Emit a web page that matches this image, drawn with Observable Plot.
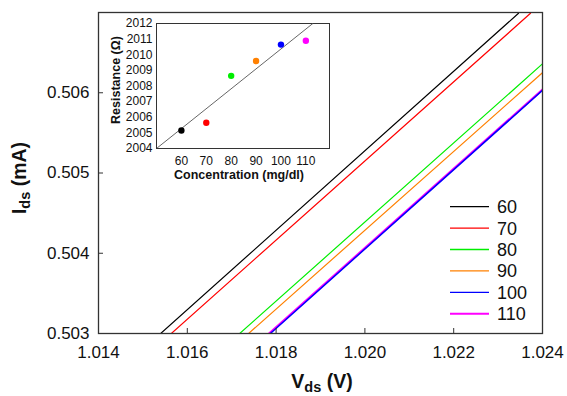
<!DOCTYPE html>
<html><head><meta charset="utf-8">
<script src="https://cdn.jsdelivr.net/npm/d3@7"></script>
<script src="https://cdn.jsdelivr.net/npm/@observablehq/plot@0.6"></script>
<style>
body{margin:0;background:#fff;}
#wrap{position:relative;width:567px;height:396px;font-family:"Liberation Sans",Arial,sans-serif;}
#wrap > svg{position:absolute;}
</style></head><body><div id="wrap"></div>
<script>
// Main chart: Ids vs Vds, one straight line per concentration (endpoints)
const seriesNames = ["60","70","80","90","100","110"];
const seriesColors = ["#000000","#ff0000","#00ee00","#ff8000","#0000ff","#ff00ff"];
const startV = [1.01540, 1.01564, 1.01718, 1.01738, 1.01787, 1.01784];
const startI = [0.50300, 0.50300, 0.50300, 0.50300, 0.50300, 0.50300];
const endV   = [1.02346, 1.02373, 1.02400, 1.02400, 1.02400, 1.02400];
const endI   = [0.50699, 0.50699, 0.50636, 0.50625, 0.50603, 0.50604];
const xTicks = [1.014, 1.016, 1.018, 1.020, 1.022, 1.024];
const yTicks = [0.503, 0.504, 0.505, 0.506];

// Inset: resistance vs concentration
const concentration = [60, 70, 80, 90, 100, 110];
const resistance = [2005.15, 2005.65, 2008.65, 2009.6, 2010.65, 2010.9];
const fitConc = [50, 112.8];
const fitRes = [2004, 2012];
const insetXTicks = [60, 70, 80, 90, 100, 110];
const insetYTicks = [2004, 2005, 2006, 2007, 2008, 2009, 2010, 2011, 2012];

const drawOrder = [0, 1, 2, 3, 5, 4];
const rows = [];
for (const k of drawOrder) {
  rows.push({s: seriesNames[k], v: startV[k], i: startI[k]});
  rows.push({s: seriesNames[k], v: endV[k], i: endI[k]});
}
const font = '"Liberation Sans", Arial, sans-serif';
const txt = "#111";

const main = Plot.plot({
  width: 567, height: 396,
  marginLeft: 98, marginRight: 25, marginTop: 12, marginBottom: 63,
  style: {fontFamily: font, fontSize: "17px", color: txt, background: "transparent", overflow: "visible"},
  x: {domain: [1.014, 1.024]},
  y: {domain: [0.503, 0.507]},
  color: {domain: seriesNames, range: seriesColors},
  marks: [
    Plot.line(rows.filter(d => d.s === "110"), {x: "v", y: "i", z: "s", stroke: "s", strokeWidth: 2.1, clip: true}),
    Plot.line(rows.filter(d => d.s !== "110"), {x: "v", y: "i", z: "s", stroke: "s", strokeWidth: d => d.s === "100" ? 1.5 : 1.2, clip: true}),
    Plot.frame({stroke: "#333", strokeWidth: 1.3}),
    Plot.axisX({ticks: xTicks, tickSize: -5, tickFormat: () => "", label: null, stroke: "#333"}),
    Plot.axisX({ticks: xTicks, tickSize: 0, tickPadding: 12, tickFormat: d3.format(".3f"), label: null}),
    Plot.axisY({ticks: yTicks, tickSize: -5, tickFormat: () => "", label: null, stroke: "#333"}),
    Plot.axisY({ticks: yTicks, tickSize: 0, tickPadding: 9, tickFormat: d3.format(".3f"), label: null})
  ]
});
main.style.left = "0px"; main.style.top = "0px";
document.getElementById("wrap").appendChild(main);

const ms = d3.select(main);
// x axis label Vds (V)
const xl = ms.append("text").attr("x", 322).attr("y", 388).attr("text-anchor", "middle")
  .attr("font-weight", "bold").attr("font-size", 19.5).attr("fill", txt).attr("font-family", font);
xl.append("tspan").text("V");
xl.append("tspan").attr("font-size", 14.5).attr("dy", 4).text("ds");
xl.append("tspan").attr("dy", -4).text(" (V)");
// y axis label Ids (mA)
const yl = ms.append("text").attr("transform", "translate(26,178) rotate(-90)").attr("text-anchor", "middle")
  .attr("font-weight", "bold").attr("font-size", 19.5).attr("fill", txt).attr("font-family", font);
yl.append("tspan").text("I");
yl.append("tspan").attr("font-size", 14.5).attr("dy", 4).text("ds");
yl.append("tspan").attr("dy", -4).text(" (mA)");

// legend
const lg = ms.append("g").attr("font-family", font).attr("font-size", 18).attr("fill", txt).attr("text-anchor", "start");
seriesNames.forEach((name, k) => {
  const cy = 206.7 + k * 21.4;
  lg.append("line").attr("x1", 450).attr("x2", 489).attr("y1", cy).attr("y2", cy)
    .attr("stroke", seriesColors[k]).attr("stroke-width", k === 5 ? 2 : 1.3);
  lg.append("text").attr("x", 497).attr("y", cy + 6.5).attr("text-anchor", "start").text(name);
});

// inset
const fitRows = fitConc.map((c, k) => ({c, r: fitRes[k]}));
const dotRows = concentration.map((c, k) => ({c, r: resistance[k], s: seriesNames[k]}));
const inset = Plot.plot({
  width: 245, height: 180,
  marginLeft: 66, marginRight: 6, marginTop: 13, marginBottom: 42,
  style: {fontFamily: font, fontSize: "12px", color: txt, background: "transparent", overflow: "visible"},
  x: {domain: [50, 119.5]},
  y: {domain: [2004, 2012]},
  color: {domain: seriesNames, range: seriesColors},
  marks: [
    Plot.frame({fill: "white", stroke: "#333", strokeWidth: 1}),
    Plot.line(fitRows, {x: "c", y: "r", stroke: "#555", strokeWidth: 0.9, clip: true}),
    Plot.dot(dotRows, {x: "c", y: "r", fill: "s", r: 3.2}),
    Plot.axisX({ticks: insetXTicks, tickSize: 0, tickPadding: 8, label: null}),
    Plot.axisY({ticks: insetYTicks, tickSize: 0, tickPadding: 4, tickFormat: d3.format("d"), label: null})
  ]
});
inset.style.left = "90px"; inset.style.top = "10px";
document.getElementById("wrap").appendChild(inset);
const is = d3.select(inset);
is.append("text").attr("x", 149).attr("y", 168.5).attr("text-anchor", "middle")
  .attr("font-weight", "bold").attr("font-size", 12.5).attr("fill", txt).attr("font-family", font)
  .text("Concentration (mg/dl)");
is.append("text").attr("transform", "translate(29.5,70) rotate(-90)").attr("text-anchor", "middle")
  .attr("font-weight", "bold").attr("font-size", 12.5).attr("fill", txt).attr("font-family", font)
  .text("Resistance (Ω)");
</script></body></html>
